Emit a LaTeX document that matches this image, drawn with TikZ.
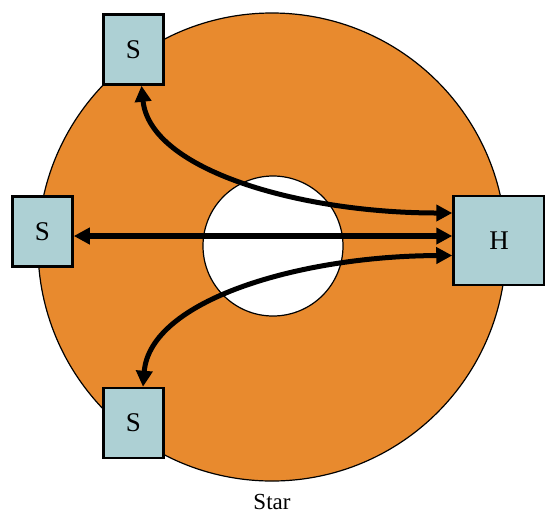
\documentclass[tikz,border=0pt]{standalone}
\usepackage{fontspec}
\setmainfont{Liberation Serif}
\usetikzlibrary{arrows.meta}
\definecolor{diskorange}{RGB}{232,138,46}
\definecolor{boxblue}{RGB}{173,208,212}
\tikzset{
  station/.style={draw=black, line width=2.5pt, fill=boxblue, inner sep=0pt,
    minimum width=60pt, minimum height=70pt, font=\fontsize{27}{32}\selectfont},
  link/.style={line width=5pt,
    {Triangle[length=16pt,width=16pt]}-{Triangle[length=16pt,width=16pt]}},
}
\begin{document}
\begin{tikzpicture}[x=1pt,y=-1pt]
    \useasboundingbox (0,0) rectangle (545,515);
    % Ring
    \draw[fill=diskorange, line width=1.2pt] (272,247) circle (234);
    \draw[fill=white, line width=1.2pt] (273,246) circle (70);
    % Stations
    \node[station] (stop) at (133.5,49.5) {S};
    \node[station] (sleft) at (42.5,231.5) {S};
    \node[station] (sbot) at (133.5,423) {S};
    \node[station, minimum width=91pt, minimum height=89pt] (hub) at (499,240.5) {H};
    % Links to the hub
    \draw[link, line width=6pt] ([yshift=4.5pt]hub.west) -- ([yshift=-4.5pt]sleft.east);
    \draw[link] ([xshift=8pt]stop.south) .. controls (150,170) and (300,213) .. ([yshift=27.5pt]hub.west);
    \draw[link] ([xshift=9.5pt]sbot.north) .. controls (150,300) and (300,256) .. ([yshift=-15pt]hub.west);
    % Caption
    \node[font=\fontsize{23}{27}\selectfont] (caption) at (272,502) {Star};
\end{tikzpicture}
\end{document}
